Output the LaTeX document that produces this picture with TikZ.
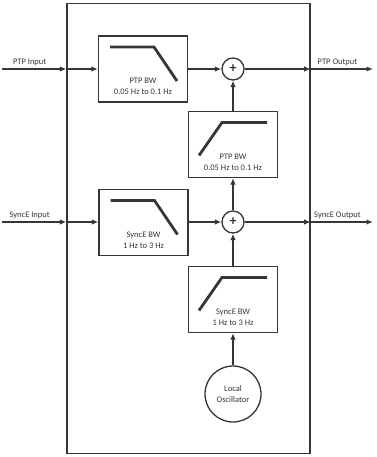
\documentclass[tikz,border=0pt]{standalone}
\usepackage{fontspec}
\setmainfont{Carlito}
\usetikzlibrary{arrows.meta}
\definecolor{graphite}{HTML}{363636}

\begin{document}
\begin{tikzpicture}[x=1pt,y=-1pt,line width=1.3pt,draw=graphite,text=graphite,
	font=\fontsize{8.5}{11}\selectfont,
	filt/.style={draw,minimum width=89pt,minimum height=66pt,inner sep=0pt},
	sum/.style={draw,circle,minimum size=22pt,inner sep=0pt,font=\fontsize{14}{14}\selectfont\bfseries},
	curve/.style={line width=2.8pt},
	arr/.style={line width=1.5pt,-{Latex[length=6.5pt,width=5.5pt]}},
	lbl/.style={inner sep=2pt,align=center}]
	\useasboundingbox (0,0) rectangle (376,457);
	\node[draw,minimum width=243pt,minimum height=450pt,inner sep=0pt] (chip) at (188.5,228.5) {};

	% filters and adders
	\node[filt] (ptplp) at (143,69) {};
	\node[filt] (ptphp) at (233,144.5) {};
	\node[filt] (synclp) at (143.5,222.5) {};
	\node[filt] (synchp) at (233,299.5) {};
	\node[sum] (ptpsum) at (233,69) {+};
	\node[sum] (syncsum) at (233,222) {+};
	\node[draw,circle,minimum size=56pt,inner sep=0pt,align=center] (osc) at (233,394) {Local\\Oscillator};

	\draw[curve,shift={(ptplp.center)}] (-33,-22) -- (11,-22) -- (34,12);
	\draw[curve,shift={(synclp.center)}] (-33,-22) -- (11,-22) -- (34,12);
	\draw[curve,shift={(ptphp.center)}] (-34,11) -- (-11,-22) -- (34,-22);
	\draw[curve,shift={(synchp.center)}] (-34,11) -- (-11,-22) -- (34,-22);

	\node[lbl] (ptplptext) at ([yshift=-17.5pt]ptplp.center) {PTP BW\\0.05 Hz to 0.1 Hz};
	\node[lbl] (ptphptext) at ([yshift=-17.5pt]ptphp.center) {PTP BW\\0.05 Hz to 0.1 Hz};
	\node[lbl] (synclptext) at ([yshift=-17.5pt]synclp.center) {SyncE BW\\1 Hz to 3 Hz};
	\node[lbl] (synchptext) at ([yshift=-17.5pt]synchp.center) {SyncE BW\\1 Hz to 3 Hz};

	% inputs and outputs
	\coordinate (ptpin) at (2,69);
	\coordinate (ptpout) at (373,69);
	\coordinate (syncin) at (2,222);
	\coordinate (syncout) at (373,222);
	\draw[arr] (ptpin) -- node[lbl,above,pos=0.43] {PTP Input} (ptpin -| chip.west);
	\draw[arr] (ptpin -| chip.west) -- (ptplp.west);
	\draw[arr] (ptplp.east |- ptpsum) -- (ptpsum);
	\draw[arr] (ptpsum) -- (ptpsum -| chip.east);
	\draw[arr] (ptpsum -| chip.east) -- node[lbl,above,pos=0.43] {PTP Output} (ptpout);
	\draw[arr] (syncin) -- node[lbl,above,pos=0.43] {SyncE Input} (syncin -| chip.west);
	\draw[arr] (syncin -| chip.west) -- (synclp.west |- syncin);
	\draw[arr] (synclp.east |- syncsum) -- (syncsum);
	\draw[arr] (syncsum) -- (syncsum -| chip.east);
	\draw[arr] (syncsum -| chip.east) -- node[lbl,above,pos=0.43] {SyncE Output} (syncout);

	% vertical chain
	\draw[arr] (ptphp) -- (ptpsum);
	\draw[arr] (syncsum) -- (ptphp);
	\draw[arr] (synchp) -- (syncsum);
	\draw[arr] (osc) -- (synchp);
\end{tikzpicture}
\end{document}
